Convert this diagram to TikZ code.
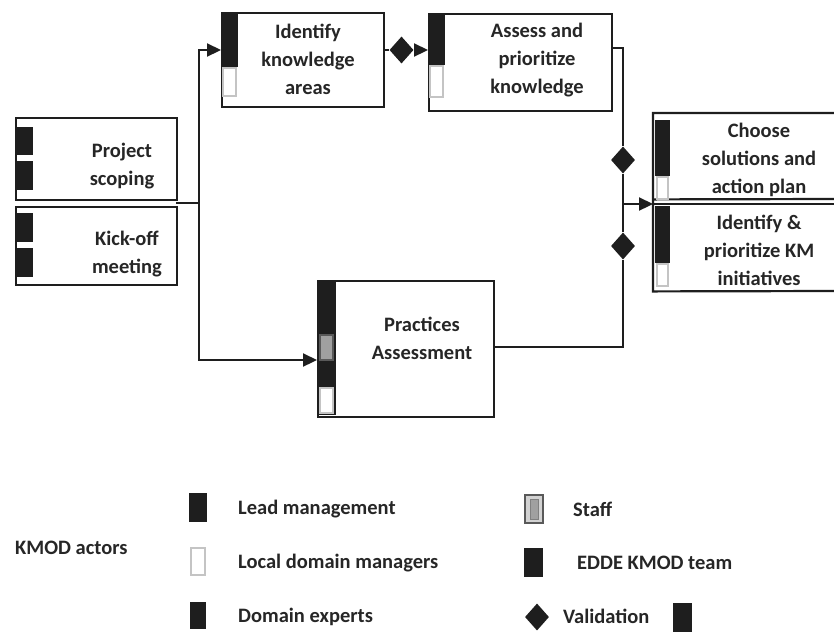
\documentclass[tikz,border=0pt]{standalone}
\usepackage{fontspec}
\setmainfont{Carlito}
\usetikzlibrary{arrows.meta,shapes.geometric}
\definecolor{ink}{HTML}{1E1E1E}
\definecolor{txt}{HTML}{262626}
\definecolor{lgray}{HTML}{C4C4C4}
\definecolor{mgray}{HTML}{A0A0A0}
\begin{document}
\begin{tikzpicture}[x=1pt,y=-1pt,
  boxst/.style={draw=ink, line width=2.2pt, fill=white, anchor=north west, inner sep=0pt},
  bar/.style={fill=ink, draw=none},
  ldm/.style={draw=lgray, line width=1.2pt, fill=white},
  staffbox/.style={draw=gray!70!black, line width=1.2pt, fill=mgray},
  lbl/.style={font=\bfseries\fontsize{20.5}{28}\selectfont, text=txt, align=center, inner sep=0pt},
  leg/.style={font=\bfseries\fontsize{20.5}{28}\selectfont, text=txt, anchor=west, inner sep=0pt},
  conn/.style={draw=ink, line width=2.2pt},
  arr/.style={conn, -{Triangle[length=14pt,width=13pt]}},
  valid/.style={diamond, fill=ink, minimum width=24pt, minimum height=27pt, inner sep=0pt},
]
\useasboundingbox (0,0) rectangle (834,633);

% ---------- boxes ----------
\node[boxst, minimum width=161pt, minimum height=82pt] (ps) at (15,117) {};
\fill[bar] (15,127) rectangle (33,155);
\fill[bar] (15,161) rectangle (33,190);
\node[lbl] (pst) at (122,166) {Project\\scoping};

\node[boxst, minimum width=161pt, minimum height=78pt] (ko) at (15,206) {};
\fill[bar] (15,213) rectangle (33,242);
\fill[bar] (15,248) rectangle (33,277);
\node[lbl] (kot) at (127,254) {Kick-off\\meeting};

\node[boxst, minimum width=162pt, minimum height=94pt] (ik) at (221,12) {};
\fill[bar] (221,12) rectangle (238,67);
\draw[ldm] (223,68) rectangle (236,96);
\node[lbl] (ikt) at (308,59) {Identify\\knowledge\\areas};

\node[boxst, minimum width=183pt, minimum height=97pt] (ap) at (428,13) {};
\fill[bar] (428,13) rectangle (445,65);
\draw[ldm] (430,66) rectangle (443,97);
\node[lbl] (apt) at (537,60) {Assess and\\prioritize\\knowledge};

\node[boxst, minimum width=176pt, minimum height=136pt] (pa) at (317,280) {};
\fill[bar] (317,280) rectangle (336,415);
\draw[staffbox] (320,335) rectangle (333,360);
\draw[ldm] (320,388) rectangle (333,413);
\node[lbl] (pat) at (422,338) {Practices\\Assessment};

% right boxes (cut by the picture's edge)
\node[inner sep=0pt, anchor=north west, minimum width=181pt, minimum height=86pt] (cs) at (653,113) {};
\node[inner sep=0pt, anchor=north west, minimum width=181pt, minimum height=87pt] (ip) at (653,204) {};
\fill[white] (653,113) rectangle (834,291);
\draw[conn] (834,113) -- (cs.north west) -- (ip.south west) -- (834,291);
\draw[conn] (cs.south west) -- (834,199);
\draw[conn] (ip.north west) -- (834,204);
\fill[bar] (655,120) rectangle (670,176);
\draw[ldm] (657,177) rectangle (668,199);
\fill[bar] (655,206) rectangle (670,263);
\draw[ldm] (657,264) rectangle (668,286);
\node[lbl] (cst) at (759,160) {Choose\\solutions and\\action plan};
\node[lbl] (ipt) at (759,250) {Identify \&\\prioritize KM\\initiatives};

% ---------- validations ----------
\node[valid] (d1) at (401.5,50) {};
\node[valid] (d2) at (623,160) {};
\node[valid] (d3) at (623,246) {};

% ---------- connectors ----------
\coordinate (gap) at (176,203);
\coordinate (jL) at (199,203);
\coordinate (jB) at (199,360);
\coordinate (rT) at (623,48);
\coordinate (rB) at (623,347);
\coordinate (jR) at (623,204);

\draw[conn] (gap) -- (jL);
\draw[arr] (jL) |- (ik.west |- d1);
\draw[arr] (jL) -- (jB) -- (pa.west |- jB);
\draw[conn] (ik.east |- d1) -- (d1);
\draw[arr] (d1) -- (ap.west |- d1);
\draw[conn] (ap.east |- rT) -- (rT) -- (d2);
\draw[conn] (d2) -- (jR);
\draw[conn] (pa.east |- rB) -- (rB) -- (d3);
\draw[conn] (d3) -- (jR);
\draw[arr] (jR) -- (ip.north west);

% ---------- legend ----------
\node[leg] (ka) at (15,548) {KMOD actors};

\fill[bar] (189,493) rectangle (207,522);
\node[leg] (lm) at (238,509) {Lead management};
\draw[ldm] (191,548) rectangle (205,575);
\node[leg] (ld) at (238,563) {Local domain managers};
\fill[bar] (190,602) rectangle (206,629);
\node[leg] (de) at (238,617) {Domain experts};

\draw[staffbox, fill=gray!35] (525,495) rectangle (543,523);
\draw[gray, line width=0.8pt, fill=mgray] (530,499) rectangle (538,519);
\node[leg] (st) at (573,509) {Staff};
\fill[bar] (524,548) rectangle (543,577);
\node[leg] (ek) at (577,563) {EDDE KMOD team};
\node[valid] (vd) at (537,617) {};
\node[leg] (vt) at (563,616) {Validation};
\fill[bar] (673,603) rectangle (692,632);
\end{tikzpicture}
\end{document}
